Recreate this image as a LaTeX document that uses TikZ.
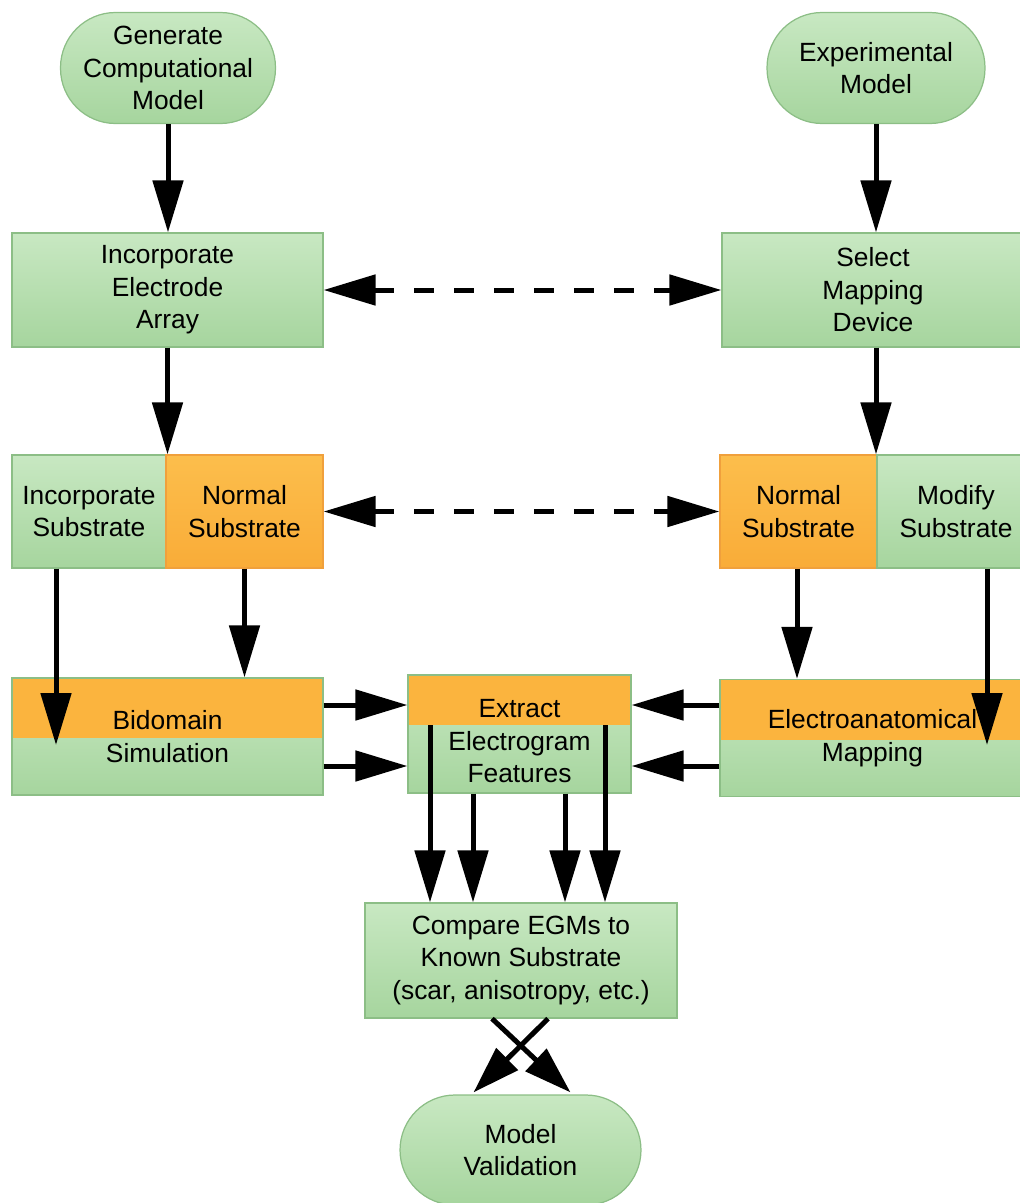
\documentclass[tikz,border=0pt]{standalone}
\usepackage{fontspec}
\setmainfont{Liberation Sans}
\usetikzlibrary{arrows.meta,calc}
\definecolor{gtop}{RGB}{200,232,194}
\definecolor{gbot}{RGB}{166,213,158}
\definecolor{gline}{RGB}{140,190,134}
\definecolor{otop}{RGB}{252,190,76}
\definecolor{obot}{RGB}{249,172,56}
\definecolor{ofill}{RGB}{251,180,62}
\definecolor{oline}{RGB}{240,160,60}
\begin{document}
\begin{tikzpicture}[x=0.02cm,y=-0.02cm,
  every node/.style={font=\fontsize{15}{18.5}\selectfont, align=center, inner sep=0pt},
  box/.style={draw=gline, line width=0.7pt, top color=gtop, bottom color=gbot},
  obox/.style={draw=oline, line width=0.7pt, top color=otop, bottom color=obot},
  stad/.style={box, rounded corners=1.1cm},
  otopband/.style={path picture={\fill[ofill] (path picture bounding box.north west) rectangle ($(path picture bounding box.north east)+(0,#1)$);}},
  arr/.style={line width=0.1cm, -{Triangle[length=1.04cm,width=0.6cm]}},
  xarr/.style={line width=0.1cm, -{Triangle[length=0.95cm,width=0.6cm]}},
  darr/.style={line width=0.1cm, {Triangle[length=1.04cm,width=0.6cm]}-{Triangle[length=1.04cm,width=0.6cm]}, dash pattern=on 0.4cm off 0.4cm},
]
\useasboundingbox (0,0) rectangle (1020,1203);

% top row
\node[stad, minimum width=4.3cm, minimum height=2.22cm] (gen) at (168,68) {Generate\\Computational\\Model};
\node[stad, minimum width=4.36cm, minimum height=2.22cm] (exp) at (876,68) {Experimental\\Model};

% second row
\node[box, minimum width=6.22cm, minimum height=2.28cm] (ele) at (167.5,290) {Incorporate\\Electrode\\Array};
\node[box, minimum width=6.04cm, minimum height=2.28cm] (sel) at (873,290) {Select\\Mapping\\Device};

% third row
\node[box, minimum width=3.08cm, minimum height=2.26cm] (incsub) at (89,511.5) {Incorporate\\Substrate};
\node[obox, minimum width=3.14cm, minimum height=2.26cm] (normL) at (244.5,511.5) {Normal\\Substrate};
\node[obox, minimum width=3.14cm, minimum height=2.26cm] (normR) at (798.5,511.5) {Normal\\Substrate};
\node[box, minimum width=3.16cm, minimum height=2.26cm] (modsub) at (956,511.5) {Modify\\Substrate};

% fourth row
\node[box, otopband=60, minimum width=6.22cm, minimum height=2.34cm] (bido) at (167.5,736.5) {Bidomain\\Simulation};
\node[box, otopband=50, minimum width=4.46cm, minimum height=2.36cm,
      label={[yshift=-0.15cm]center:{Extract\\Electrogram\\Features}}] (extr) at (519.5,734) {};
\node[box, otopband=60, minimum width=6.1cm, minimum height=2.34cm] (elec) at (872.5,738) {Electroanatomical\\Mapping};

% fifth row
\node[box, minimum width=6.24cm, minimum height=2.3cm] (comp) at (521,960.5) {Compare EGMs to\\Known Substrate\\(scar, anisotropy, etc.)};
\node[stad, minimum width=4.82cm, minimum height=2.2cm] (mv) at (520.5,1150) {Model\\Validation};

% connectors
\draw[arr] (gen.south) -- (gen.south |- ele.north);
\draw[arr] (exp.south) -- (exp.south |- sel.north);
\draw[darr] (ele.east) -- (sel.west);
\draw[arr] (ele.south) -- (ele.south |- normL.north);
\draw[arr] (exp.south |- sel.south) -- (exp.south |- normR.north);
\draw[darr] (normL.east) -- (normR.west);

\coordinate (a1) at (56,745);
\coordinate (a2) at (987,745);
\coordinate (a3) at (797,0);
\draw[arr] (a1 |- incsub.south) -- (a1);
\draw[arr] (normL.south) -- (normL.south |- bido.north);
\draw[arr] (a3 |- normR.south) -- (a3 |- elec.north);
\draw[arr] (a2 |- modsub.south) -- (a2);

\coordinate (r1) at (0,705);
\coordinate (r2) at (0,766);
\draw[arr] (bido.east |- r1) -- (extr.west |- r1);
\draw[arr] (bido.east |- r2) -- (extr.west |- r2);
\draw[arr] (elec.west |- r1) -- (extr.east |- r1);
\draw[arr] (elec.west |- r2) -- (extr.east |- r2);

\coordinate (s) at (0,725);
\coordinate (d1) at (430,0);
\coordinate (d2) at (473,0);
\coordinate (d3) at (565,0);
\coordinate (d4) at (605,0);
\draw[arr] (d1 |- s) -- (d1 |- comp.north);
\draw[arr] (d2 |- extr.south) -- (d2 |- comp.north);
\draw[arr] (d3 |- extr.south) -- (d3 |- comp.north);
\draw[arr] (d4 |- s) -- (d4 |- comp.north);

\draw[xarr] ($(comp.south)+(27,0)$) -- ($(mv.north)+(-47,-2)$);
\draw[xarr] ($(comp.south)+(-29,0)$) -- ($(mv.north)+(50,-2)$);
\end{tikzpicture}
\end{document}
